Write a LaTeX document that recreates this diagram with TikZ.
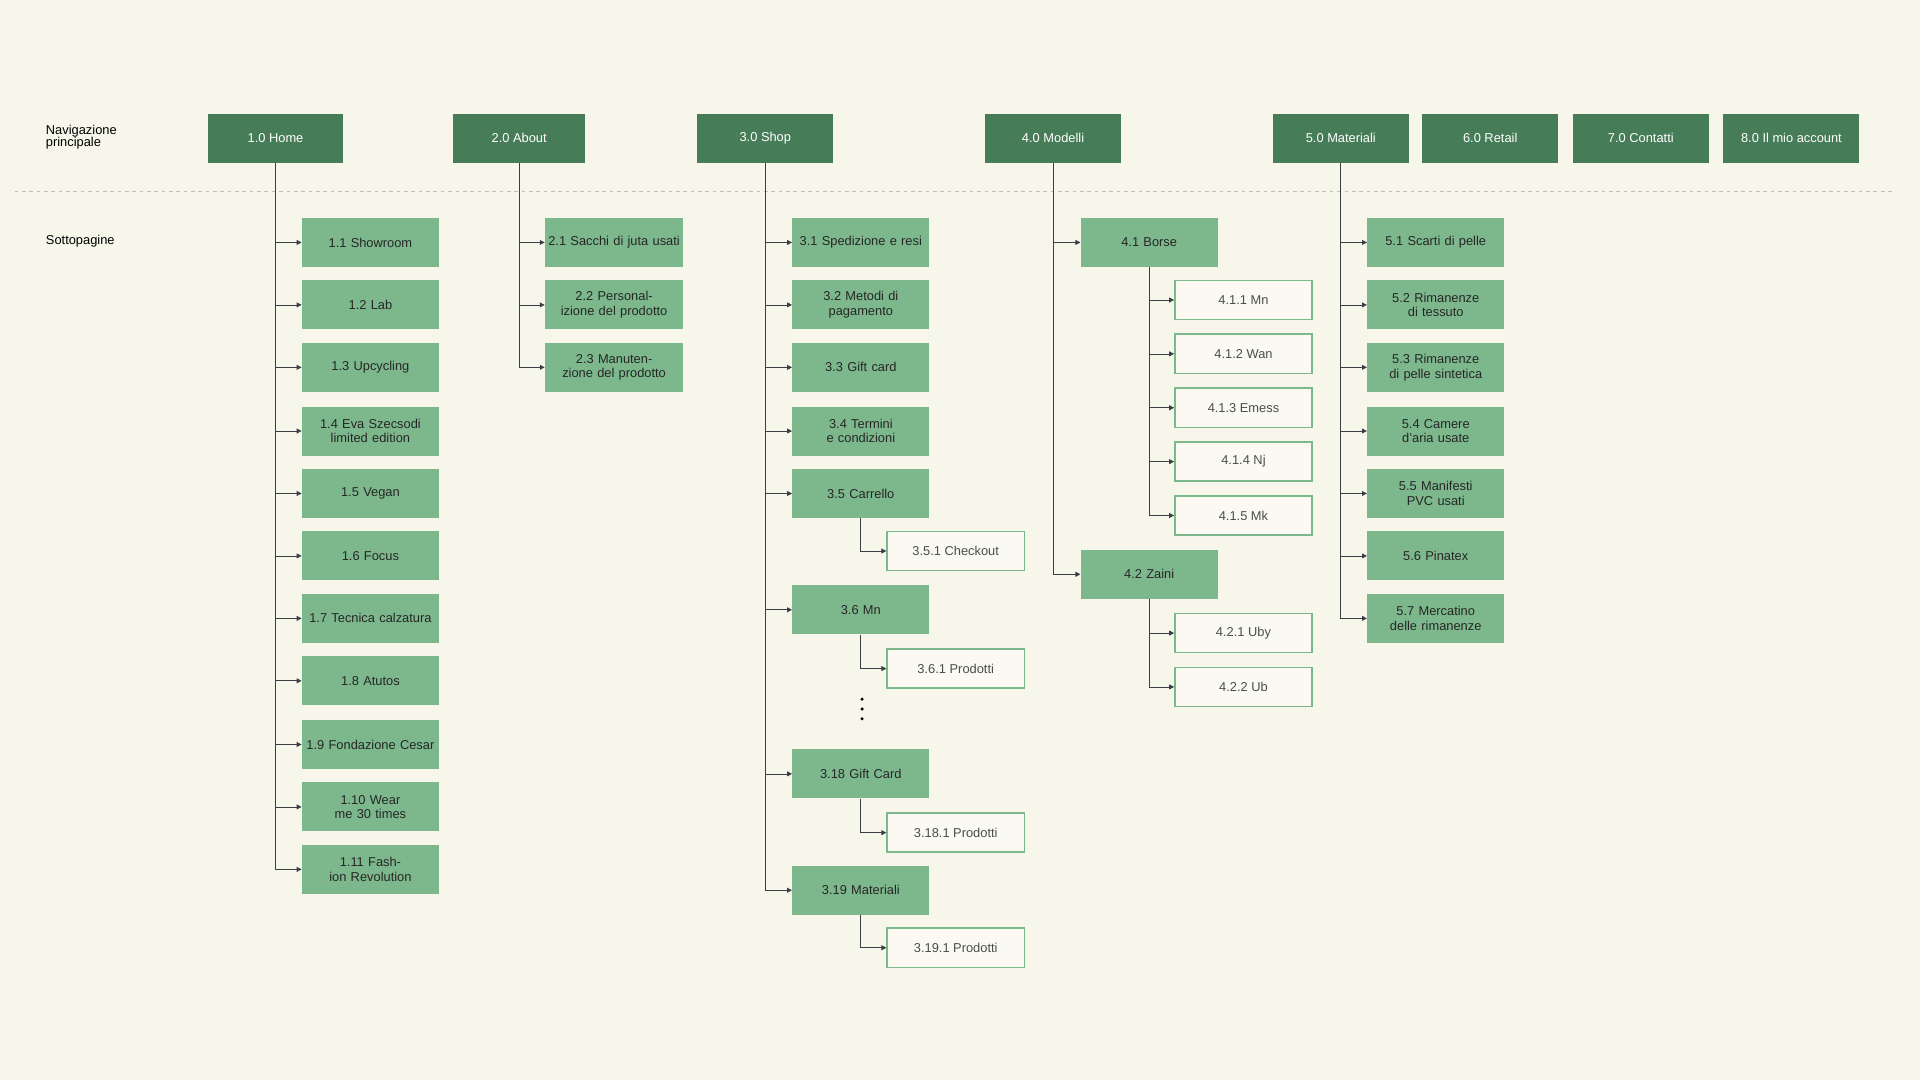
\documentclass[tikz,border=0pt]{standalone}
\usepackage{fontspec}
\setmainfont{Liberation Sans}
\usetikzlibrary{arrows.meta}
\definecolor{bg}{HTML}{F6F6EA}
\definecolor{dk}{HTML}{467C58}
\definecolor{md}{HTML}{7DB88D}
\definecolor{ln}{HTML}{3A3F45}
\tikzset{
 top/.style={fill=dk,text=white,minimum width=111pt,minimum height=40pt,inner sep=1pt,font=\fontsize{10.5}{12}\selectfont,align=center},
 sub/.style={fill=md,text=black!85,minimum width=112pt,minimum height=40pt,inner sep=1pt,text width=110pt,font=\fontsize{10.5}{12}\selectfont,align=center},
 leaf/.style={draw=md,line width=1.3pt,fill=white!40!bg,text=black!70,minimum width=112pt,minimum height=32pt,inner sep=1pt,font=\fontsize{10.5}{12}\selectfont,align=center},
 con/.style={draw=ln,line width=0.6pt,-{Triangle[length=4pt,width=4pt]}},
 trunk/.style={draw=ln,line width=0.6pt},
 lbl/.style={anchor=west,align=left,font=\fontsize{10.5}{12}\selectfont,text=black}
}
\begin{document}
\begin{tikzpicture}[x=1pt,y=-1pt]
\fill[bg] (0,0) rectangle (1568,882);
\useasboundingbox (0,0) rectangle (1568,882);
\node[lbl] (l1) at (34,112) {Navigazione\\[-2pt]principale};
\node[lbl] (l2) at (34,197) {Sottopagine};
\draw[dashed,gray!50,line width=0.8pt] (12,156) -- (1545,156);
\node[top] (h) at (225,113) {1.0 Home};
\node[top,minimum width=108pt] (a) at (424,113) {2.0 About};
\node[top] (s) at (625,113) {3.0 Shop};
\node[top] (m) at (860,113) {4.0 Modelli};
\node[top] (t) at (1095,113) {5.0 Materiali};
\node[top] (r) at (1217,113) {6.0 Retail};
\node[top] (c) at (1340,113) {7.0 Contatti};
\node[top] (ac) at (1463,113) {8.0 Il mio account};
% Home
\foreach \i/\y/\t in {1/198/1.1 Showroom,2/249/1.2 Lab,3/300/1.3 Upcycling,4/352/{1.4 Eva Szecsodi limited edition},5/403/1.5 Vegan,6/454/1.6 Focus,7/505/1.7 Tecnica calzatura,8/556/1.8 Atutos,9/608/{1.9 Fondazione Cesar},10/659/{1.10 Wear me 30 times},11/710/{1.11 Fashion Revolution}}{
 \node[sub] (h\i) at (302.5,\y) {\t};
 \draw[con] (h.south) |- (h\i.west);
}
% About
\foreach \i/\y/\t in {1/198/{2.1 Sacchi di juta usati},2/249/{2.2 Personalizione del prodotto},3/300/{2.3 Manutenzione del prodotto}}{
 \node[sub,minimum width=113pt] (a\i) at (501.5,\y) {\t};
 \draw[con] (a.south) |- (a\i.west);
}
% Shop
\foreach \i/\y/\t in {1/198/3.1 Spedizione e resi,2/249/{3.2 Metodi di pagamento},3/300/3.3 Gift card,4/352/{3.4 Termini e condizioni},5/403/3.5 Carrello,6/498/3.6 Mn,18/632/3.18 Gift Card,19/727/3.19 Materiali}{
 \node[sub] (s\i) at (703,\y) {\t};
 \draw[con] (s.south) |- (s\i.west);
}
\foreach \p/\y/\t in {5/450/3.5.1 Checkout,6/546/3.6.1 Prodotti,18/680/3.18.1 Prodotti,19/774/3.19.1 Prodotti}{
 \node[leaf] (ss\p) at (780.5,\y) {\t};
 \draw[con] (s\p.south) |- (ss\p.west);
}
\foreach \y in {571,579,587} \fill[black] (704,\y) circle (1.4pt);
% Modelli
\node[sub] (m1) at (938.5,198) {4.1 Borse};
\node[sub] (m2) at (938.5,469) {4.2 Zaini};
\draw[con] (m.south) |- (m1.west);
\draw[con] (m.south) |- (m2.west);
\foreach \i/\y/\t in {1/245/4.1.1 Mn,2/289/4.1.2 Wan,3/333/4.1.3 Emess,4/377/4.1.4 Nj,5/421/4.1.5 Mk}{
 \node[leaf] (m1\i) at (1015.5,\y) {\t};
 \draw[con] (m1.south) |- (m1\i.west);
}
\foreach \i/\y/\t in {1/517/4.2.1 Uby,2/561/4.2.2 Ub}{
 \node[leaf] (m2\i) at (1015.5,\y) {\t};
 \draw[con] (m2.south) |- (m2\i.west);
}
% Materiali
\foreach \i/\y/\t in {1/198/5.1 Scarti di pelle,2/249/{5.2 Rimanenze di tessuto},3/300/{5.3 Rimanenze di pelle sintetica},4/352/{5.4 Camere d'aria usate},5/403/{5.5 Manifesti PVC usati},6/454/5.6 Pinatex,7/505/{5.7 Mercatino delle rimanenze}}{
 \node[sub] (t\i) at (1172.5,\y) {\t};
 \draw[con] (t.south) |- (t\i.west);
}
\end{tikzpicture}
\end{document}
